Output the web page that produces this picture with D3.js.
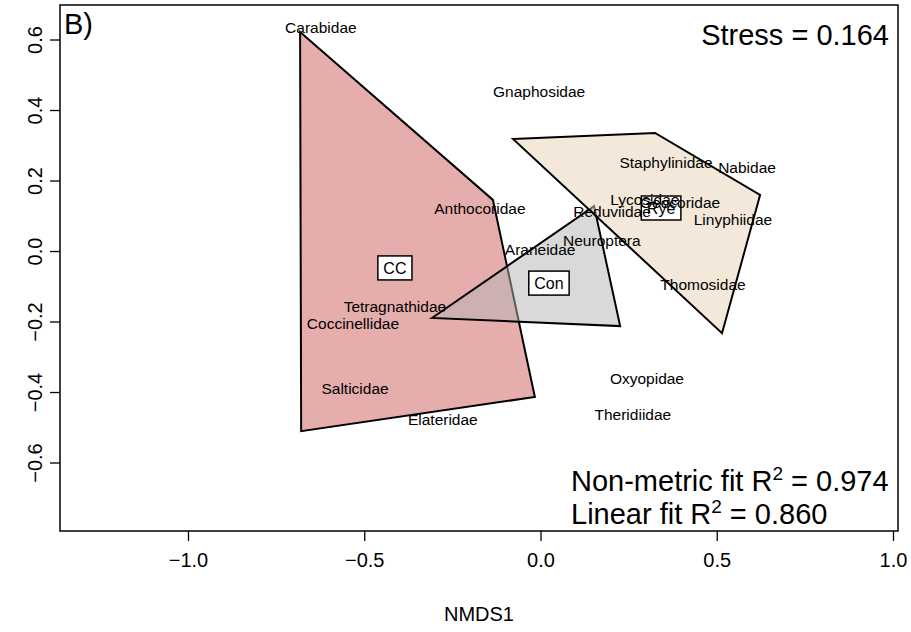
<!DOCTYPE html>
<html>
<head>
<meta charset="utf-8">
<script src="https://cdnjs.cloudflare.com/ajax/libs/d3/7.8.5/d3.min.js"></script>
<style>
  body { margin: 0; background: #fff; }
  svg text { font-family: "Liberation Sans", Arial, Helvetica, sans-serif; fill: #000; }
</style>
</head>
<body>
<div id="chart"></div>
<script>
// NMDS ordination, panel B

// species scores (NMDS1, NMDS2)
var species = ["Carabidae", "Gnaphosidae", "Staphylinidae", "Nabidae", "Lycosidae",
    "Geocoridae", "Reduviidae", "Linyphiidae", "Anthocoridae", "Neuroptera", "Araneidae",
    "Thomosidae", "Tetragnathidae", "Coccinellidae", "Salticidae", "Elateridae",
    "Oxyopidae", "Theridiidae"];
var spX = [-0.623, -0.004, 0.356, 0.586, 0.296, 0.396, 0.203, 0.546, -0.172, 0.174, -0.001,
    0.461, -0.413, -0.532, -0.526, -0.277, 0.302, 0.262];
var spY = [0.635, 0.451, 0.250, 0.238, 0.145, 0.136, 0.111, 0.088, 0.119, 0.031, 0.003,
    -0.094, -0.159, -0.207, -0.389, -0.477, -0.363, -0.465];

// treatment groups, label position and hull vertices
var groups = ["CC", "Con", "Rye"];
var groupX = [-0.413, 0.024, 0.342];
var groupY = [-0.048, -0.091, 0.122];
var groupFill = ["#cd5c5c", "#b3b3b3", "#e9d1b5"];
var hullCC = [[-0.682, 0.621], [-0.135, 0.145], [-0.016, -0.414], [-0.679, -0.511]];
var hullCon = [[-0.308, -0.190], [0.152, 0.127], [0.226, -0.213]];
var hullRye = [[-0.078, 0.318], [0.325, 0.335], [0.623, 0.159], [0.515, -0.233]];

// axes
var xTicks = [-1.0, -0.5, 0.0, 0.5, 1.0];
var yTicks = [-0.6, -0.4, -0.2, 0.0, 0.2, 0.4, 0.6];
var stress = "0.164";
var nonMetricR2 = "0.974";
var linearR2 = "0.860";

var width = 911,
    height = 632;
var plotL = 60, plotR = 898, plotT = 5, plotB = 531;

var svg = d3.select("#chart").append("svg")
    .attr("width", width)
    .attr("height", height);

// equal aspect (asp = 1)
var xScale = d3.scaleLinear()
    .domain([-1.3631, 1.0142])
    .range([plotL, plotR]);
var yScale = d3.scaleLinear()
    .domain([-0.7943, 0.6979])
    .range([plotB, plotT]);

var fmt = function(d) { return d3.format(".1f")(d).replace("-", "\u2212"); };

// hulls
var hulls = [hullCC, hullCon, hullRye];
var line = d3.line()
    .x(function(d) { return xScale(d[0]); })
    .y(function(d) { return yScale(d[1]); })
    .curve(d3.curveLinearClosed);

svg.append("g").selectAll("path")
    .data(hulls)
    .enter()
    .append("path")
    .attr("d", line)
    .attr("fill", function(d, i) { return groupFill[i]; })
    .attr("fill-opacity", 0.5)
    .attr("stroke", "#000")
    .attr("stroke-width", 2)
    .attr("stroke-linejoin", "miter");

// group labels in boxes
var gl = svg.append("g").selectAll("g")
    .data(groups)
    .enter()
    .append("g")
    .attr("transform", function(d, i) {
        return "translate(" + xScale(groupX[i]) + "," + yScale(groupY[i]) + ")";
    });
gl.append("text")
    .attr("text-anchor", "middle")
    .attr("dy", "0.35em")
    .style("font-size", "16px")
    .text(function(d) { return d; })
    .each(function() {
        var b = this.getBBox();
        d3.select(this.parentNode).insert("rect", "text")
            .attr("x", b.x - 5.5)
            .attr("y", -12)
            .attr("width", b.width + 11)
            .attr("height", 24)
            .attr("fill", "#fff")
            .attr("stroke", "#000")
            .attr("stroke-width", 1.5);
    });

// species labels
svg.append("g").selectAll("text")
    .data(species)
    .enter()
    .append("text")
    .attr("x", function(d, i) { return xScale(spX[i]); })
    .attr("y", function(d, i) { return yScale(spY[i]); })
    .attr("dy", "0.35em")
    .attr("text-anchor", "middle")
    .style("font-size", "15.5px")
    .text(function(d) { return d; });

// axes
var xAxis = d3.axisBottom(xScale).tickValues(xTicks).tickSize(10).tickPadding(12).tickFormat(fmt);
var yAxis = d3.axisLeft(yScale).tickValues(yTicks).tickSize(10).tickPadding(6).tickFormat(fmt);

var gx = svg.append("g")
    .attr("transform", "translate(0," + plotB + ")")
    .call(xAxis);
var gy = svg.append("g")
    .attr("transform", "translate(" + plotL + ",0)")
    .call(yAxis);
[gx, gy].forEach(function(g) {
    g.select(".domain").remove();
    g.selectAll("line").attr("stroke", "#000").attr("stroke-width", 1.3);
    g.selectAll("text").style("font-size", "20px")
        .style("font-family", "'Liberation Sans', Arial, sans-serif").attr("fill", "#000");
});
gy.selectAll(".tick text")
    .attr("text-anchor", "middle")
    .attr("x", null)
    .attr("dy", null)
    .attr("transform", "translate(-18,0) rotate(-90)")
    .attr("y", 0);

// plot frame
svg.append("rect")
    .attr("x", plotL)
    .attr("y", plotT)
    .attr("width", plotR - plotL)
    .attr("height", plotB - plotT)
    .attr("fill", "none")
    .attr("stroke", "#000")
    .attr("stroke-width", 1.5);

// axis title
svg.append("text")
    .attr("x", (plotL + plotR) / 2)
    .attr("y", 621)
    .attr("text-anchor", "middle")
    .style("font-size", "20px")
    .text("NMDS1");

// annotations
svg.append("text")
    .attr("x", 64)
    .attr("y", 34)
    .style("font-size", "29px")
    .text("B)");

svg.append("text")
    .attr("x", 889)
    .attr("y", 45)
    .attr("text-anchor", "end")
    .style("font-size", "29px")
    .text("Stress = " + stress);

// fit statistics, left aligned like a legend
var fits = [["Non-metric fit R", nonMetricR2], ["Linear fit R", linearR2]];
svg.append("g").selectAll("text")
    .data(fits)
    .enter()
    .append("text")
    .attr("x", 571)
    .attr("y", function(d, i) { return 491 + i * 33; })
    .attr("text-anchor", "start")
    .style("font-size", "29px")
    .each(function(d) {
        var t = d3.select(this);
        t.append("tspan").text(d[0]);
        t.append("tspan").attr("dy", -11).style("font-size", "19px").text("2");
        t.append("tspan").attr("dy", 11).text(" = " + d[1]);
    });
</script>
</body>
</html>
